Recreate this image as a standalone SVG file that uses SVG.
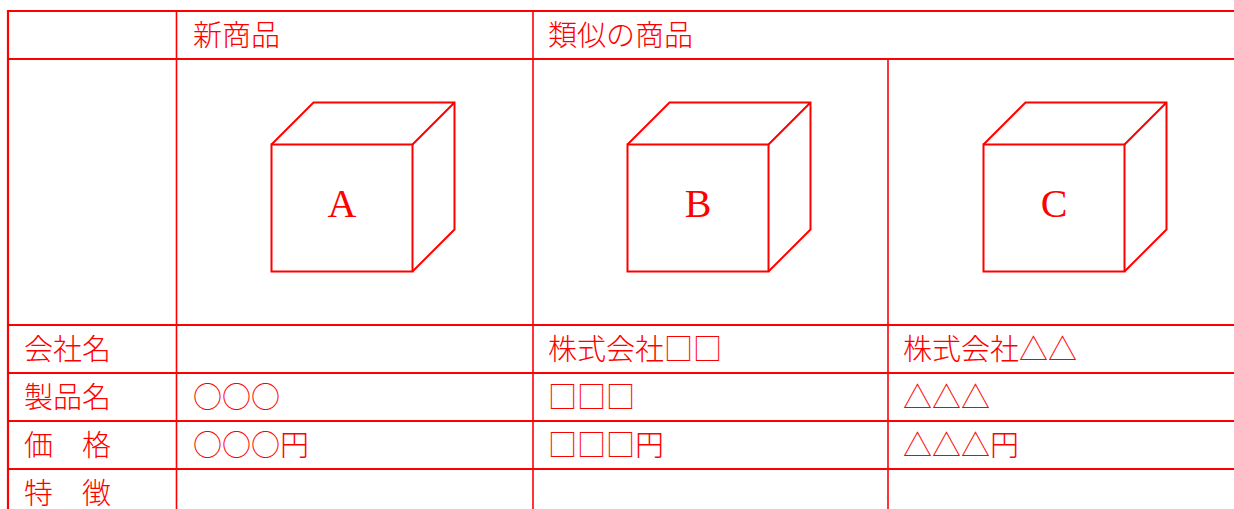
<svg xmlns="http://www.w3.org/2000/svg" width="1234" height="509" viewBox="0 0 1234 509">
<style>
.h{stroke:#ff0000;stroke-width:2.2;fill:none}
.v{stroke:#ff0000;stroke-width:1.6;fill:none}
.b{stroke:#ff0000;stroke-width:2.2;fill:none}
.c{stroke:#ff0000;stroke-width:2;fill:none;stroke-linejoin:miter}
.t{fill:#ff0000;font-family:"Noto Sans CJK JP","Noto Sans CJK SC",sans-serif;font-size:29px;font-weight:300}
.L{fill:#ff0000;font-family:"Liberation Serif",serif;font-size:40px;text-anchor:middle}
</style>
<defs>
<g id="cube">
<rect class="c" x="0" y="0" width="141" height="127"/>
<path class="c" d="M0 0 L42 -42 L183 -42 L183 85 L141 127 M141 0 L183 -42"/>
</g>
</defs>
<g id="grid">
<line class="b" x1="8" y1="10" x2="8" y2="509"/>
<line class="h" x1="7" y1="11" x2="1234" y2="11"/>
<line class="h" x1="7" y1="59" x2="1234" y2="59"/>
<line class="h" x1="7" y1="325" x2="1234" y2="325"/>
<line class="h" x1="7" y1="373" x2="1234" y2="373"/>
<line class="h" x1="7" y1="421" x2="1234" y2="421"/>
<line class="h" x1="7" y1="469" x2="1234" y2="469"/>
<line class="v" x1="176.5" y1="11" x2="176.5" y2="509"/>
<line class="v" x1="533" y1="11" x2="533" y2="509"/>
<line class="v" x1="888" y1="59" x2="888" y2="509"/>
</g>
<g id="header">
<text class="t" x="193" y="46">新商品</text>
<text class="t" x="548" y="46">類似の商品</text>
</g>
<g id="cube-A">
<use href="#cube" x="271.5" y="144.5"/>
<text class="L" x="342" y="217">A</text>
</g>
<g id="cube-B">
<use href="#cube" x="627.5" y="144.5"/>
<text class="L" x="698" y="217">B</text>
</g>
<g id="cube-C">
<use href="#cube" x="983.5" y="144.5"/>
<text class="L" x="1054" y="217">C</text>
</g>
<g id="row-company">
<text class="t" x="24" y="360">会社名</text>
<text class="t" x="548" y="360">株式会社□□</text>
<text class="t" x="903" y="360">株式会社△△</text>
</g>
<g id="row-product">
<text class="t" x="24" y="408">製品名</text>
<text class="t" x="193" y="408">○○○</text>
<text class="t" x="548" y="408">□□□</text>
<text class="t" x="903" y="408">△△△</text>
</g>
<g id="row-price">
<text class="t" x="24" y="456">価　格</text>
<text class="t" x="193" y="456">○○○円</text>
<text class="t" x="548" y="456">□□□円</text>
<text class="t" x="903" y="456">△△△円</text>
</g>
<g id="row-feature">
<text class="t" x="24" y="504">特　徴</text>
</g>
</svg>
